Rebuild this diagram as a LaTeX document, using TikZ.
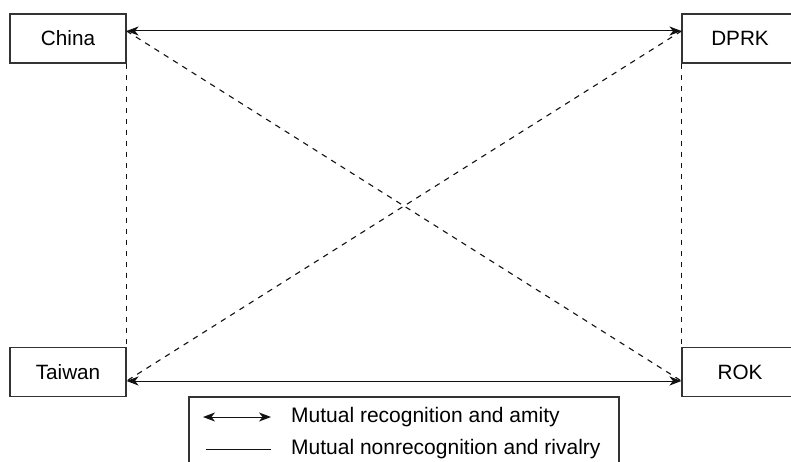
\documentclass[tikz,border=0pt]{standalone}
\usepackage{fontspec}
\setmainfont{Liberation Sans}
\usepackage{tikz}
\usetikzlibrary{arrows.meta,positioning,calc}
\definecolor{ink}{HTML}{111111}
\definecolor{frame}{HTML}{333333}
\tikzset{
  statebox/.style={draw=frame, fill=white, line width=1.1pt, minimum width=116pt,
                   minimum height=49pt, inner sep=0pt, font=\fontsize{20.7}{24}\selectfont},
  ar2/.style={{Stealth[length=12pt,width=9pt,inset=3.5pt]}-{Stealth[length=12pt,width=9pt,inset=3.5pt]},
              line width=1pt, draw=ink},
  plain/.style={line width=1pt, draw=ink},
  dsh/.style={dash pattern=on 5.5pt off 5.5pt, line width=1.1pt, draw=ink},
  lbl/.style={font=\fontsize{21}{24}\selectfont, anchor=west, inner sep=0pt}
}
\begin{document}
\begin{tikzpicture}[x=1pt,y=1pt]
  \useasboundingbox (0,0) rectangle (791,461);

  \node[statebox] (china)  at (68,422.5) {China};
  \node[statebox] (dprk)   at (740,422.5) {DPRK};
  \node[statebox] (taiwan) at (68,89) {Taiwan};
  \node[statebox] (rok)    at (740,89) {ROK};

  % nonrecognition links
  \draw[dsh] (china.south east) -- (taiwan.north east);
  \draw[dsh] (dprk.south west) -- (rok.north west);
  \draw[dsh] ([yshift=7.5pt]china.east) -- ([yshift=-9pt]rok.west);
  \draw[dsh] ([yshift=7.5pt]dprk.west) -- ([yshift=-9pt]taiwan.east);

  % recognition links
  \draw[ar2] ([yshift=7.5pt]china.east) -- ([yshift=7.5pt]dprk.west);
  \draw[ar2] ([yshift=-9pt]taiwan.east) -- ([yshift=-9pt]rok.west);

  % legend
  \draw[draw=frame, line width=1.1pt] (189,64) rectangle (619,-20);
  \coordinate (la) at (203,44);
  \coordinate (lb) at (271,44);
  \coordinate (lc) at (206,12);
  \coordinate (ld) at (271,12);
  \draw[ar2] (la) -- (lb);
  \draw[plain] (lc) -- (ld);
  \node[lbl] (amity)   at (291,44) {Mutual recognition and amity};
  \node[lbl] (rivalry) at (291,12) {Mutual nonrecognition and rivalry};
\end{tikzpicture}
\end{document}
